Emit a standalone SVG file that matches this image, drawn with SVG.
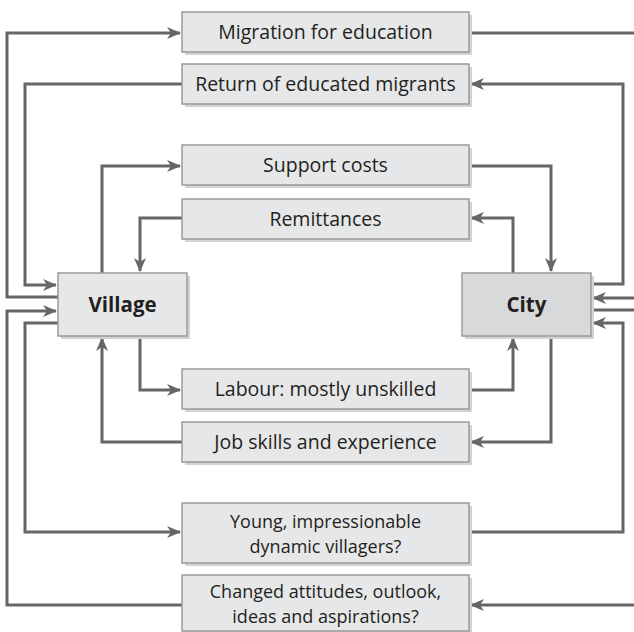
<svg xmlns="http://www.w3.org/2000/svg" width="634" height="632" viewBox="0 0 634 632">
<style>
.box{fill:#e6e7e8;stroke:#9a9a9a;stroke-width:1.5}
.city{fill:#d8d9da;stroke:#9a9a9a;stroke-width:1.5}
.sh{fill:#d2d3d4}
.t{font-family:"Open Sans","Noto Sans",sans-serif;font-size:19.5px;fill:#231f20;text-anchor:middle}
.t2{font-size:18px}
.b{font-weight:bold;font-size:20.5px}
.c{fill:none;stroke:#666;stroke-width:3}
.a{marker-end:url(#ah)}
</style>
<defs>
<marker id="ah" markerUnits="userSpaceOnUse" markerWidth="16" markerHeight="14" refX="13" refY="6" orient="auto">
<path d="M0,0 L14,6 L0,12 L4,6 z" fill="#666"/>
</marker>
</defs>
<g id="connectors">
<path class="c a" d="M58,297 H7 V33 H180"/>
<path class="c" d="M469,33 H634"/>
<path class="c a" d="M634,298 H593"/>
<path class="c a" d="M591,284 H623 V84 H471"/>
<path class="c a" d="M182,84 H25 V285 H56"/>
<path class="c a" d="M102,273 V166 H180"/>
<path class="c a" d="M469,166 H551 V271"/>
<path class="c a" d="M513,273 V218 H471"/>
<path class="c a" d="M182,218 H140 V271"/>
<path class="c a" d="M140,336 V390 H180"/>
<path class="c a" d="M469,390 H513 V338"/>
<path class="c a" d="M551,336 V442 H471"/>
<path class="c a" d="M182,442 H102 V338"/>
<path class="c a" d="M58,323 H25 V532 H180"/>
<path class="c a" d="M469,532 H623 V323 H593"/>
<path class="c a" d="M634,605 H471"/>
<path class="c a" d="M182,605 H7 V311 H56"/>
<path class="c" d="M591,310 H634"/>
</g>
<g id="migration"><rect class="sh" x="185" y="15" width="287" height="40"/><rect class="box" x="182" y="12" width="287" height="40"/><text class="t" x="325.5" y="39">Migration for education</text></g>
<g id="return"><rect class="sh" x="185" y="67" width="287" height="40"/><rect class="box" x="182" y="64" width="287" height="40"/><text class="t" x="325.5" y="91">Return of educated migrants</text></g>
<g id="support"><rect class="sh" x="185" y="148" width="287" height="40"/><rect class="box" x="182" y="145" width="287" height="40"/><text class="t" x="325.5" y="172">Support costs</text></g>
<g id="remittances"><rect class="sh" x="185" y="202" width="287" height="40"/><rect class="box" x="182" y="199" width="287" height="40"/><text class="t" x="325.5" y="226">Remittances</text></g>
<g id="village"><rect class="sh" x="61" y="276" width="129" height="63"/><rect class="box" x="58" y="273" width="129" height="63"/><text class="t b" x="122.5" y="311.5">Village</text></g>
<g id="city"><rect class="sh" x="465" y="276" width="129" height="63"/><rect class="city" x="462" y="273" width="129" height="63"/><text class="t b" x="526.5" y="311.5">City</text></g>
<g id="labour"><rect class="sh" x="185" y="372" width="287" height="40"/><rect class="box" x="182" y="369" width="287" height="40"/><text class="t" x="325.5" y="396">Labour: mostly unskilled</text></g>
<g id="jobskills"><rect class="sh" x="185" y="425" width="287" height="40"/><rect class="box" x="182" y="422" width="287" height="40"/><text class="t" x="325.5" y="449">Job skills and experience</text></g>
<g id="young"><rect class="sh" x="185" y="506" width="287" height="60"/><rect class="box" x="182" y="503" width="287" height="60"/><text class="t t2" x="325.5" y="528">Young, impressionable</text><text class="t t2" x="325.5" y="553">dynamic villagers?</text></g>
<g id="changed"><rect class="sh" x="185" y="578" width="287" height="56"/><rect class="box" x="182" y="575" width="287" height="56"/><text class="t t2" x="325.5" y="598">Changed attitudes, outlook,</text><text class="t t2" x="325.5" y="623">ideas and aspirations?</text></g>
</svg>
